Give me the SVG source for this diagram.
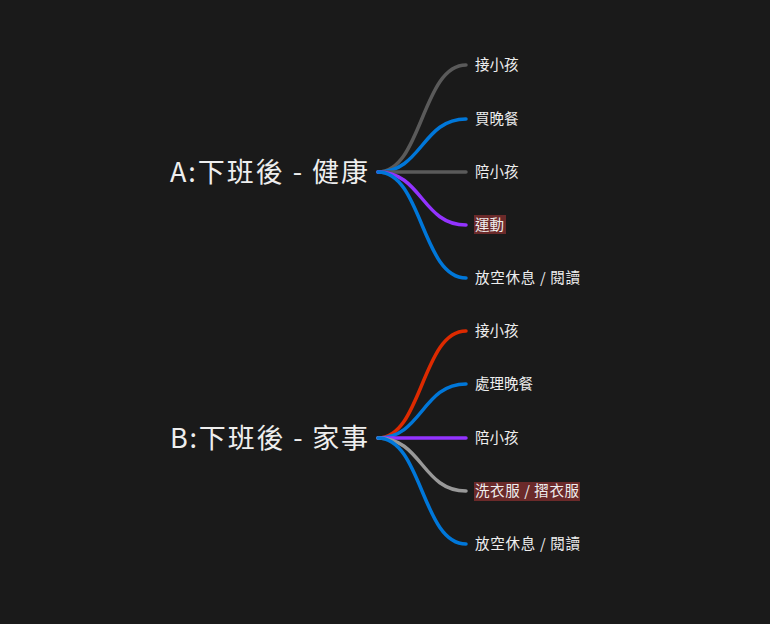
<svg xmlns="http://www.w3.org/2000/svg" width="770" height="624" viewBox="0 0 770 624">
<style>
.c{fill:none;stroke-width:3.5;stroke-linecap:round}
.r{font-family:"Noto Sans CJK TC","Noto Sans",sans-serif;font-size:27px;fill:#eee}
.l{font-family:"Noto Sans CJK TC","Noto Sans",sans-serif;font-size:14.5px;fill:#eee}
.h{fill:#6b2a2a}
</style>
<rect width="770" height="624" fill="#1a1a1a"/>
<g id="connectors">
<path class="c" stroke="#5a5a5a" d="M378,172 C422,172 422,65 466,65"/>
<path class="c" stroke="#0077d9" d="M378,172 C422,172 422,119 466,119"/>
<path class="c" stroke="#5a5a5a" d="M378,172 L466,172"/>
<path class="c" stroke="#9333ff" d="M378,172 C422,172 422,225 466,225"/>
<path class="c" stroke="#0077d9" d="M378,172 C422,172 422,278 466,278"/>
<path class="c" stroke="#dd2a00" d="M378,438 C422,438 422,331 466,331"/>
<path class="c" stroke="#0077d9" d="M378,438 C422,438 422,384 466,384"/>
<path class="c" stroke="#9333ff" d="M378,438 L466,438"/>
<path class="c" stroke="#999999" d="M378,438 C422,438 422,491 466,491"/>
<path class="c" stroke="#0077d9" d="M378,438 C422,438 422,544 466,544"/>
</g>
<g id="rootA"><text class="r" x="170" y="182" textLength="198" lengthAdjust="spacing">A:下班後 - 健康</text></g>
<g id="a1"><text class="l" x="475" y="70">接小孩</text></g>
<g id="a2"><text class="l" x="475" y="124">買晚餐</text></g>
<g id="a3"><text class="l" x="475" y="177">陪小孩</text></g>
<g id="a4"><rect class="h" x="474" y="215" width="32" height="19"/><text class="l" x="475" y="230">運動</text></g>
<g id="a5"><text class="l" x="475" y="283" textLength="105" lengthAdjust="spacing">放空休息 / 閱讀</text></g>
<g id="rootB"><text class="r" x="170" y="448" textLength="198" lengthAdjust="spacing">B:下班後 - 家事</text></g>
<g id="b1"><text class="l" x="475" y="336">接小孩</text></g>
<g id="b2"><text class="l" x="475" y="389">處理晚餐</text></g>
<g id="b3"><text class="l" x="475" y="443">陪小孩</text></g>
<g id="b4"><rect class="h" x="474" y="482" width="106" height="19"/><text class="l" x="475" y="496" textLength="104" lengthAdjust="spacing">洗衣服 / 摺衣服</text></g>
<g id="b5"><text class="l" x="475" y="549" textLength="105" lengthAdjust="spacing">放空休息 / 閱讀</text></g>
</svg>
